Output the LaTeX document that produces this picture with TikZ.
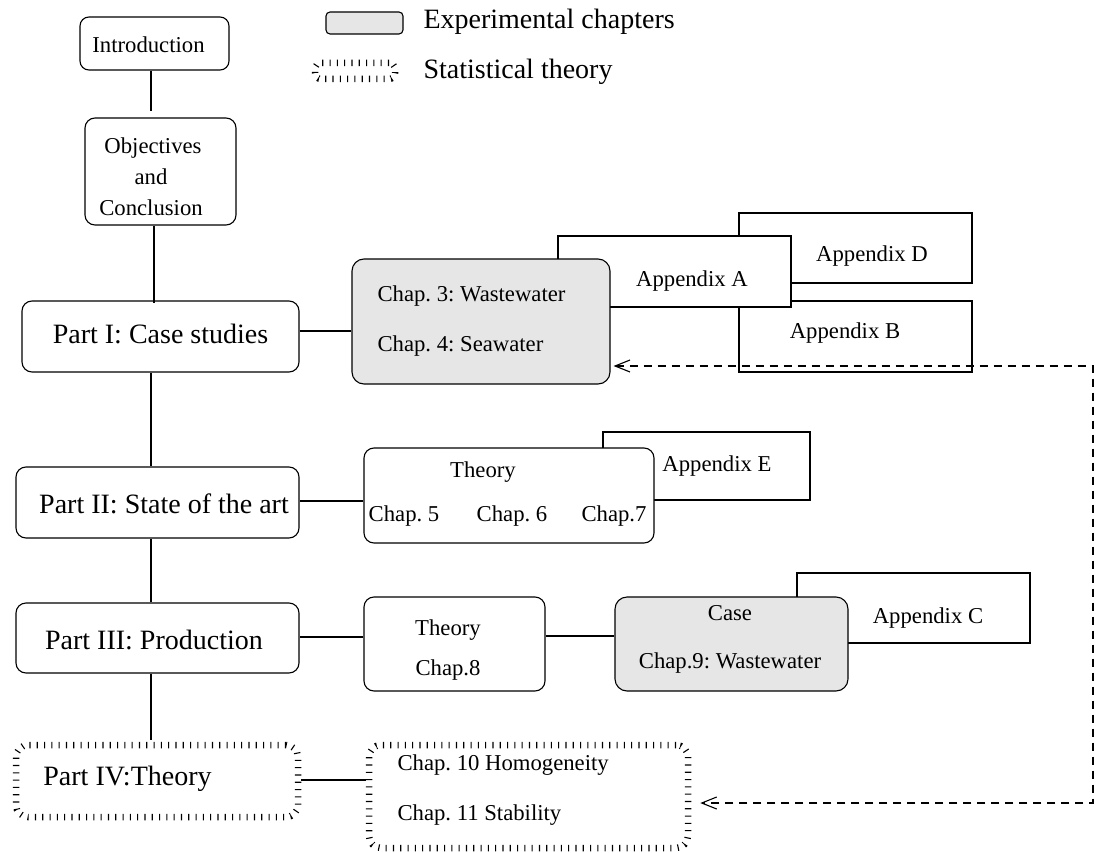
\documentclass[tikz,border=0pt]{standalone}
\usepackage{fontspec}
\setmainfont{Liberation Serif}
\usetikzlibrary{arrows.meta}
\definecolor{expgray}{HTML}{E6E6E6}
\frenchspacing
\begin{document}
\begin{tikzpicture}[x=1pt,y=-1pt,line width=1.1pt,
  box/.style={draw, rounded corners=10pt, fill=white, inner sep=0pt},
  expbox/.style={draw, rounded corners=12pt, fill=expgray, inner sep=0pt},
  appbox/.style={draw, fill=white, inner sep=0pt},
  statbox/.style={draw, line width=6.5pt, dash pattern=on 1.1pt off 6.2pt, rounded corners=12pt, inner sep=0pt},
  sz/.style 2 args={minimum width=#1, minimum height=#2},
  small/.style={inner sep=0pt, text height=16pt, text depth=0pt, font=\fontsize{22.7}{27}\selectfont\frenchspacing},
  big/.style={inner sep=0pt, text height=18pt, text depth=0pt, font=\fontsize{28}{33}\selectfont\frenchspacing},
  link/.style={draw, line width=1.1pt},
  dashlink/.style={draw, line width=1.1pt, dash pattern=on 8pt off 6pt,
    {Straight Barb[length=15pt,width=12pt]}-{Straight Barb[length=15pt,width=12pt]}},
]
\useasboundingbox (0,0) rectangle (1110,853);

% spine coordinates
\coordinate (s1) at (151,0);
\coordinate (s2) at (154,0);
\coordinate (h1) at (0,331);
\coordinate (h2) at (0,501);
\coordinate (h3) at (0,637);
\coordinate (h3b) at (0,636);
\coordinate (h4) at (0,780);
\coordinate (dA) at (1093,366);
\coordinate (dB) at (1093,803);

% legend
\node[expbox, rounded corners=4pt, sz={77pt}{22pt}] (legexp) at (364.5,23) {};
\node[big, anchor=west] (legexpt) at (423,20) {Experimental chapters};
\node[statbox, rounded corners=6pt, sz={80pt}{16pt}] (legstat) at (355,71) {};
\node[big, anchor=west] (legstatt) at (423,70) {Statistical theory};

% left column
\node[box, rounded corners=9pt, sz={149pt}{53pt}] (intro) at (154.5,43.5) {};
\node[small] (introt) at (148.5,45) {Introduction};
\node[box, sz={151pt}{107pt}] (obj) at (160.5,171.5) {};
\node[small] (objt1) at (153,146) {Objectives};
\node[small] (objt2) at (151,177) {and};
\node[small] (objt3) at (151,207) {Conclusion};

\node[box, sz={277pt}{71pt}] (p1) at (160.5,336.5) {};
\node[big] (p1t) at (160.5,334) {Part I: Case studies};
\node[box, sz={283pt}{71pt}] (p2) at (157.5,502.5) {};
\node[big] (p2t) at (164,504) {Part II: State of the art};
\node[box, sz={283pt}{70pt}] (p3) at (157.5,638) {};
\node[big] (p3t) at (154,640) {Part III: Production};
\node[statbox, sz={282pt}{72pt}] (p4) at (157,781) {};
\node[big] (p4t) at (127.5,776) {Part IV:Theory};

% vertical links
\draw[link] ([xshift=-3.5pt]intro.south) -- ([xshift=-9.5pt,yshift=6pt]obj.north);
\draw[link] (obj.south -| s2) -- ([yshift=-3pt]p1.north -| s2);
\draw[link] (p1.south -| s1) -- (p2.north -| s1);
\draw[link] (p2.south -| s1) -- (p3.north -| s1);
\draw[link] (p3.south -| s1) -- ([yshift=2pt]p4.north -| s1);

% appendices for Part I
\node[appbox, sz={233pt}{70pt}] (appD) at (855.5,248) {};
\node[small] (appDt) at (872,253) {Appendix D};
\node[appbox, sz={233pt}{71pt}] (appB) at (855.5,336.5) {};
\node[small] (appBt) at (845,330) {Appendix B};
\node[appbox, sz={233pt}{71pt}] (appA) at (674.5,271.5) {};
\node[small] (appAt) at (692,278) {Appendix A};

\node[expbox, sz={258pt}{125pt}] (c34) at (481,321.5) {};
\node[small, anchor=west] (c3t) at (377,293) {Chap. 3: Wastewater};
\node[small, anchor=west] (c4t) at (377,343) {Chap. 4: Seawater};
\draw[link] (p1.east |- h1) -- (c34.west |- h1);

% Part II
\node[appbox, sz={207pt}{68pt}] (appE) at (706.5,466) {};
\node[small] (appEt) at (717,463) {Appendix E};
\node[box, sz={290pt}{95pt}] (th2) at (509,495.5) {};
\node[small] (th2t) at (483,469) {Theory};
\node[small] (c5t) at (404,513) {Chap. 5};
\node[small] (c6t) at (512,513) {Chap. 6};
\node[small] (c7t) at (614,513) {Chap.7};
\draw[link] (p2.east |- h2) -- (th2.west |- h2);

% Part III
\node[appbox, sz={233pt}{70pt}] (appC) at (913.5,608) {};
\node[small] (appCt) at (928,615) {Appendix C};
\node[box, sz={181pt}{94pt}] (th3) at (454.5,644) {};
\node[small] (th3t) at (448,627) {Theory};
\node[small] (c8t) at (448,667) {Chap.8};
\node[expbox, sz={233pt}{94pt}] (case) at (731.5,644) {};
\node[small] (caset) at (730,612) {Case};
\node[small] (c9t) at (730,660) {Chap.9: Wastewater};
\draw[link] (p3.east |- h3) -- (th3.west |- h3);
\draw[link] (th3.east |- h3b) -- (case.west |- h3b);

% Part IV
\node[statbox, sz={319pt}{103pt}] (c1011) at (528.5,796.5) {};
\node[small, anchor=west] (c10t) at (397,762) {Chap. 10 Homogeneity};
\node[small, anchor=west] (c11t) at (397,812) {Chap. 11 Stability};
\draw[link] (p4.east |- h4) -- (c1011.west |- h4);

% dashed feedback
\draw[dashlink] ([xshift=3pt]c34.east |- dA) -- (dA) -- (dB) -- ([xshift=9pt]c1011.east |- dB);
\end{tikzpicture}
\end{document}
